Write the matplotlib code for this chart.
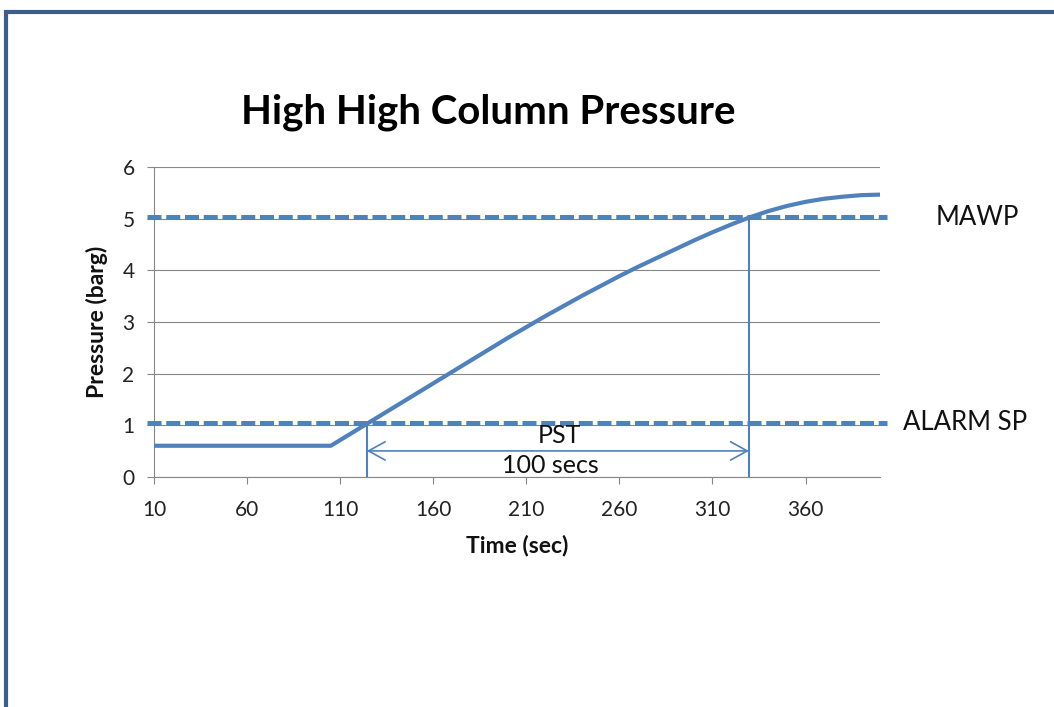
import matplotlib
matplotlib.use("Agg")
import matplotlib.pyplot as plt
from matplotlib.patches import FancyArrowPatch, Rectangle

plt.rcParams['font.family'] = ['Lato', 'DejaVu Sans']

# ---- data ----
time_s = [10, 20, 30, 40, 50, 60, 70, 80, 90, 100, 105, 110, 120, 130, 140, 150,
          160, 170, 180, 190, 200, 210, 220, 230, 240, 250, 260, 270, 280, 290,
          300, 310, 320, 330, 340, 350, 360, 370, 380, 390, 400]
pressure = [0.6, 0.6, 0.6, 0.6, 0.6, 0.6, 0.6, 0.6, 0.6, 0.6, 0.6, 0.71, 0.93, 1.15,
            1.37, 1.59, 1.81, 2.03, 2.25, 2.47, 2.69, 2.90, 3.11, 3.31, 3.51, 3.70,
            3.89, 4.07, 4.24, 4.41, 4.58, 4.74, 4.89, 5.03, 5.15, 5.25, 5.33, 5.39,
            5.43, 5.46, 5.47]
mawp = 5.04
alarm_sp = 1.04
t_alarm = 124.3
t_mawp = 329.6
pst_y = 0.5
ref_labels = ["MAWP", "ALARM SP"]
x_ticks = [10, 60, 110, 160, 210, 260, 310, 360]
y_ticks = [0, 1, 2, 3, 4, 5, 6]

blue = "#4F81BD"
grid_gray = "#868686"

fig = plt.figure(figsize=(10.54, 7.07), dpi=100)
W, H = 1054, 707
ax = fig.add_axes([154 / W, 1 - 476.7 / H, (880 - 154) / W, (476.7 - 167.3) / H])

ax.set_xlim(10, 400)
ax.set_ylim(0, 6)
ax.set_xticks(x_ticks)
ax.set_yticks(y_ticks)
ax.yaxis.grid(True, color=grid_gray, linewidth=0.8)
ax.set_axisbelow(True)
for s in ["top", "right"]:
    ax.spines[s].set_visible(False)
for s in ["left", "bottom"]:
    ax.spines[s].set_color(grid_gray)
    ax.spines[s].set_linewidth(0.8)
ax.tick_params(axis="both", color=grid_gray, width=0.8, length=5, labelsize=15,
               labelcolor="#222222")
ax.tick_params(axis="x", pad=12)
ax.tick_params(axis="y", pad=9)

# reference lines
ax.plot([6, 404], [mawp, mawp], color=blue, lw=3.6, ls=(0, (2.8, 0.95)),
        clip_on=False, zorder=3)
ax.plot([6, 404], [alarm_sp, alarm_sp], color=blue, lw=3.6, ls=(0, (2.8, 0.95)),
        clip_on=False, zorder=3)

# pressure curve
ax.plot(time_s, pressure, color=blue, lw=3.0, solid_capstyle="butt",
        solid_joinstyle="round", zorder=4, clip_on=False)

# PST markers
ax.plot([t_alarm, t_alarm], [0, alarm_sp], color=blue, lw=1.5, zorder=5)
ax.plot([t_mawp, t_mawp], [0, mawp], color=blue, lw=1.5, zorder=5)
arr = FancyArrowPatch((t_alarm, pst_y), (t_mawp, pst_y),
                      arrowstyle="<->,head_length=1.0,head_width=0.55",
                      color=blue, lw=1.2, mutation_scale=12, shrinkA=0, shrinkB=0, zorder=5)
ax.add_patch(arr)

ax.text(0.5 * (t_alarm + t_mawp) + 1, 0.58, "PST", ha="center", va="bottom", fontsize=18,
        color="#111111")
ax.text(0.5 * (t_alarm + t_mawp) - 4, 0.44, "100 secs", ha="center", va="top", fontsize=18,
        color="#111111")

fig.text(977 / W, 1 - 217 / H, ref_labels[0], ha="center", va="center", fontsize=18.5,
         color="#111111")
fig.text(965 / W, 1 - 423 / H, ref_labels[1], ha="center", va="center", fontsize=18.5,
         color="#111111")

fig.text(488 / W, 1 - 112 / H, "High High Column Pressure", ha="center", va="center",
         fontsize=29, fontweight="bold", color="#000000")
fig.text(517 / W, 1 - 545 / H, "Time (sec)", ha="center", va="center", fontsize=16.5,
         fontweight="bold", color="#111111")
fig.text(97 / W, 1 - 322 / H, "Pressure (barg)", ha="center", va="center", fontsize=16.5,
         fontweight="bold", rotation=90, color="#111111")

# chart frame
frame = Rectangle((5.5 / W, -0.2), 1.5, 1.2 - 11.5 / H, transform=fig.transFigure,
                  fill=False, edgecolor="#3A5F8C", linewidth=3.0)
fig.add_artist(frame)

fig.savefig("out.png", dpi=100, facecolor="white")
